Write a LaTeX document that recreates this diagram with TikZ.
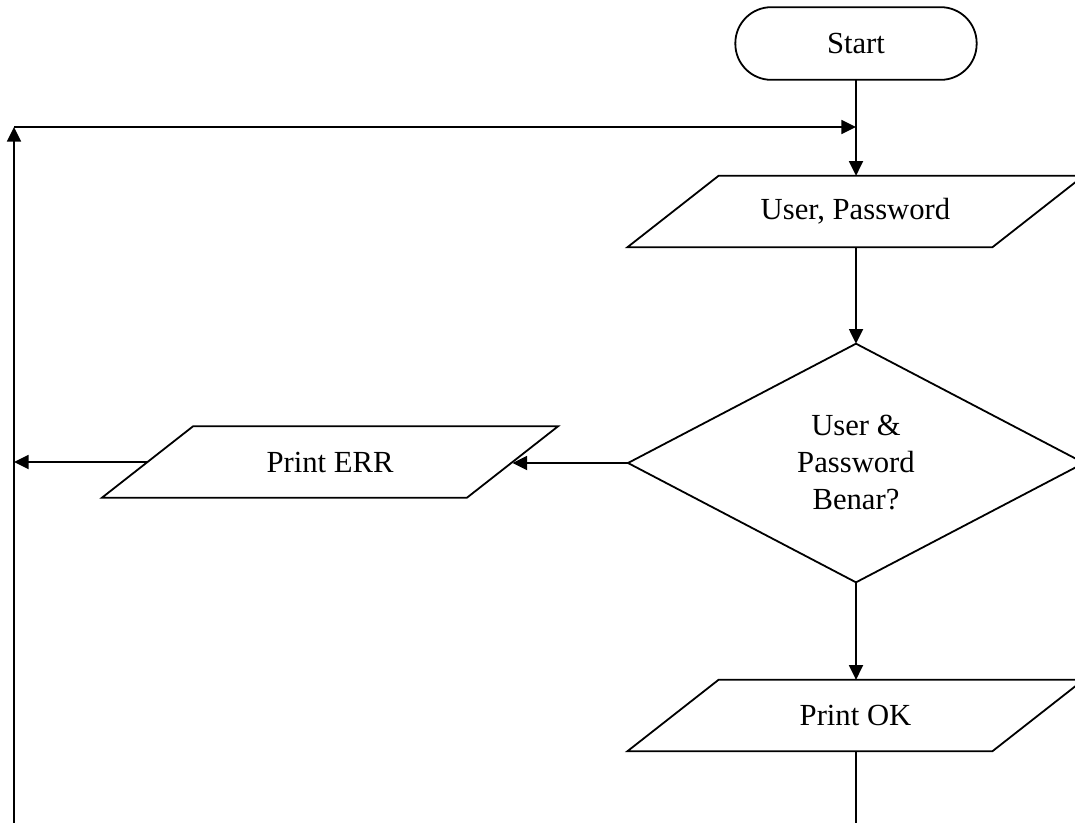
\documentclass[tikz,border=0pt]{standalone}
\usepackage{fontspec}
\setmainfont{Liberation Serif}
\usetikzlibrary{shapes.geometric,arrows.meta}
\tikzset{
  base/.style={draw=black, line width=1.35pt, inner sep=0pt, outer sep=0pt,
    font=\fontsize{23}{27.75}\selectfont, align=center},
  terminal/.style={base, rectangle, rounded corners=27pt, minimum width=181pt, minimum height=54.5pt},
  iobox/.style={base, draw=none, rectangle, minimum width=273.75pt, minimum height=53.5pt},
  decision/.style={base, diamond, minimum width=342pt, minimum height=179pt},
  flow/.style={line width=1.35pt, -{Triangle[length=11pt,width=10.5pt]}},
  plain/.style={line width=1.35pt, line join=miter},
}
\newcommand\drawio[1]{\draw[plain] ([xshift=34.125pt]#1.north west) -- ([xshift=34.125pt]#1.north east) -- ([xshift=-34.125pt]#1.south east) -- ([xshift=-34.125pt]#1.south west) -- cycle;}
\begin{document}
\begin{tikzpicture}[x=0.75pt,y=-0.75pt]
\useasboundingbox (0,0) rectangle (1075,822);
\clip (0,0) rectangle (1075,822);
\fill[white] (0,0) rectangle (1075,822);
\node[terminal] (start) at (856,43.5) {Start};
\node[iobox] (user) at (855.5,211.5) {User, Password};
\drawio{user}
\node[decision] (dia) at (856,463) {User \&\\Password\\Benar?};
\node[iobox] (perr) at (330,462) {Print ERR};
\drawio{perr}
\node[iobox] (pok) at (855.5,715.5) {Print OK};
\drawio{pok}
\coordinate (join) at (856,127);
\coordinate (loopTop) at (14,127);
\coordinate (loopBot) at (14,830);
\coordinate (okBot) at (856,830);
\draw[plain] (start.south) -- (join);
\draw[flow] (join) -- (user.north -| join);
\draw[flow] (user.south -| join) -- (dia.north);
\draw[flow] (dia.south) -- (pok.north -| dia.south);
\draw[flow] (dia.west) -- (dia.west -| perr.east);
\draw[flow] (perr.west) -- (perr.west -| loopTop);
\draw[plain] (pok.south -| okBot) -- (okBot);
\draw[flow] (loopBot) -- (loopTop);
\draw[flow] (loopTop) -- (join);
\end{tikzpicture}
\end{document}
